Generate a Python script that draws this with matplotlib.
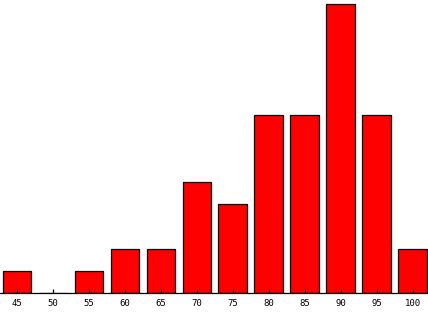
import matplotlib
matplotlib.use("Agg")
import matplotlib.pyplot as plt
import numpy as np

# scores and counts
categories = ["45", "50", "55", "60", "65", "70", "75", "80", "85", "90", "95", "100"]
counts = [1, 0, 1, 2, 2, 5, 4, 8, 8, 13, 8, 2]

fig = plt.figure(figsize=(4.28, 3.12), dpi=100)
ax = fig.add_axes([0, 19 / 312, 1, 293 / 312])

x = np.arange(len(categories))
ax.bar(x, counts, width=0.8, color="#ff0000", edgecolor="black", linewidth=0.9)

ax.set_xlim(-0.47, 11.42)
ax.set_ylim(0, 13.2)
ax.set_xticks(x)
ax.set_xticklabels(categories, fontsize=6.5, family="DejaVu Sans Mono")
ax.tick_params(axis="x", direction="in", length=3, pad=4, width=0.9)
ax.set_yticks([])

for s in ["left", "right", "top"]:
    ax.spines[s].set_visible(False)
ax.spines["bottom"].set_linewidth(0.9)

fig.savefig("out.png", dpi=100)
